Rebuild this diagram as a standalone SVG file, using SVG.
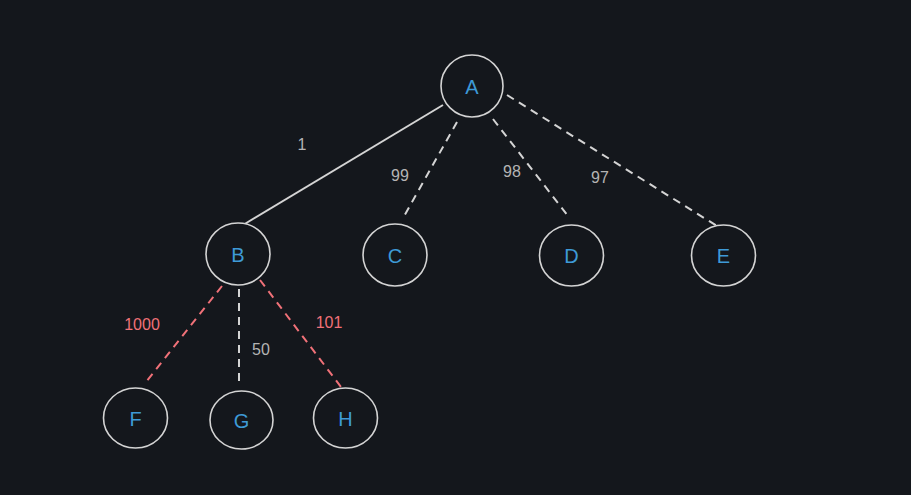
<svg xmlns="http://www.w3.org/2000/svg" width="911" height="495" viewBox="0 0 911 495">
<style>
.n ellipse{fill:#14171c;stroke:#d4d4d4;stroke-width:1.6}
.n text{fill:#3e9ad6;font-family:"Liberation Sans",Arial,sans-serif;font-size:20px;text-anchor:middle}
.e{stroke:#d4d4d4;stroke-width:2;fill:none}
.d{stroke-dasharray:8 6}
.r{stroke:#f07178}
.l{fill:#b4b4b4;font-family:"Liberation Sans",Arial,sans-serif;font-size:16px;text-anchor:middle}
.lr{fill:#f07178}
</style>
<rect width="911" height="495" fill="#14171c"/>
<g id="edges">
<line class="e" x1="443" y1="105" x2="243" y2="225"/>
<line class="e d" x1="457" y1="122" x2="403" y2="218"/>
<line class="e d" x1="493" y1="119" x2="568" y2="216"/>
<line class="e d" x1="507" y1="95" x2="717" y2="226"/>
<line class="e d r" x1="222" y1="286" x2="146" y2="382"/>
<line class="e d" x1="239" y1="289" x2="239" y2="384"/>
<line class="e d r" x1="260" y1="280" x2="341" y2="387"/>
<text class="l" x="302" y="150">1</text>
<text class="l" x="400" y="181">99</text>
<text class="l" x="512" y="177">98</text>
<text class="l" x="600" y="183">97</text>
<text class="l lr" x="142" y="330">1000</text>
<text class="l" x="261" y="355">50</text>
<text class="l lr" x="329" y="328">101</text>
</g>
<g id="A" class="n"><ellipse cx="472" cy="86" rx="31" ry="31"/><text x="472" y="94">A</text></g>
<g id="B" class="n"><ellipse cx="238" cy="254" rx="32" ry="31"/><text x="238" y="262">B</text></g>
<g id="C" class="n"><ellipse cx="395" cy="255" rx="32" ry="31"/><text x="395" y="263">C</text></g>
<g id="D" class="n"><ellipse cx="571.5" cy="255.5" rx="32" ry="30.5"/><text x="571.5" y="263">D</text></g>
<g id="E" class="n"><ellipse cx="723.5" cy="255.5" rx="32" ry="30.5"/><text x="723.5" y="263">E</text></g>
<g id="F" class="n"><ellipse cx="135.5" cy="418" rx="32" ry="30"/><text x="135.5" y="426">F</text></g>
<g id="G" class="n"><ellipse cx="241.5" cy="420" rx="31.5" ry="29"/><text x="241.5" y="428">G</text></g>
<g id="H" class="n"><ellipse cx="345.5" cy="418" rx="32" ry="30"/><text x="345.5" y="426">H</text></g>
</svg>
